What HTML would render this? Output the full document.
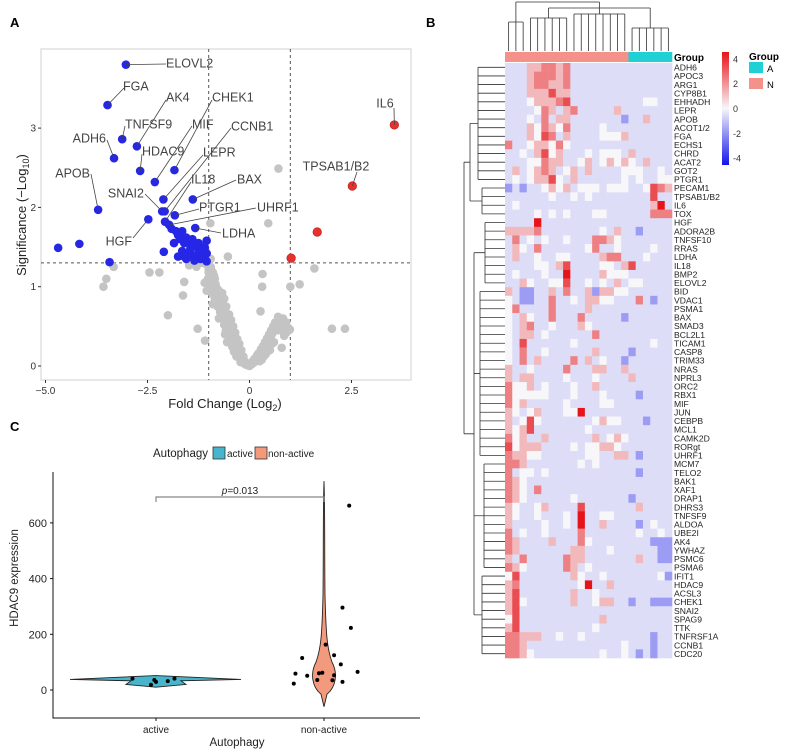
<!DOCTYPE html>
<html><head><meta charset="utf-8">
<style>
body{margin:0;background:#fff;}
svg{display:block;font-family:"Liberation Sans",Arial,sans-serif;}
</style></head>
<body>
<svg id="fig" width="786" height="754" viewBox="0 0 786 754" xmlns="http://www.w3.org/2000/svg">
<rect width="786" height="754" fill="#fff"/>
<text x="10" y="27" font-size="13" font-weight="bold">A</text>
<text x="426" y="27" font-size="13" font-weight="bold">B</text>
<text x="10" y="431" font-size="13" font-weight="bold">C</text>
<g id="volcano"></g>
<g id="heat"></g>
<g id="violin"></g>
</svg>
<script>
const NS="http://www.w3.org/2000/svg";
function mk(parent,tag,attrs,text){const e=document.createElementNS(NS,tag);for(const k in attrs)e.setAttribute(k,attrs[k]);if(text!==undefined)e.textContent=text;parent.appendChild(e);return e;}

/* ===== Volcano data ===== */
const grayPts=[[0.71,2.49],[-0.96,1.80],[0.46,1.80],[-0.53,1.38],[1.59,1.23],[-3.33,1.25],[-3.51,1.10],[-3.58,1.0],[-2.45,1.18],[-2.21,1.18],[-2.00,0.64],[-1.63,0.89],[-1.60,1.06],[0.32,1.16],[0.31,1.0],[1.0,1.0],[1.23,1.03],[2.02,0.47],[2.34,0.47],[0.27,0.69],[0.99,0.46],[0.79,0.23],[-1.27,0.47],[-1.09,0.32],[-1.48,1.27],[-1.3,1.25],[-1.15,1.3],[-0.95,1.35],
[-1.05,1.28],[-1.0,1.22],[-0.98,1.15],[-0.95,1.1],[-0.9,1.05],[-0.92,0.98],[-0.85,0.95],[-0.88,0.9],[-0.8,0.88],[-0.82,0.82],[-0.75,0.8],[-0.78,0.75],[-0.7,0.72],[-0.72,0.68],[-0.65,0.65],[-0.68,0.6],[-0.6,0.58],[-0.62,0.52],[-0.55,0.5],[-0.58,0.45],[-0.5,0.42],[-0.52,0.38],[-0.45,0.35],[-0.48,0.3],[-0.4,0.28],[-0.42,0.24],[-0.35,0.22],[-0.38,0.18],[-0.3,0.16],[-0.32,0.12],[-0.25,0.11],[-0.2,0.08],[-0.22,0.05],[-0.15,0.04],[-0.1,0.02],[-0.05,0.01],[0,0],[-0.95,1.25],[-0.9,1.18],[-0.85,1.1],[-1.1,1.05],[-1.05,0.95],[-0.75,0.95],[-0.7,0.85],[-0.65,0.78],[-0.9,0.78],[-0.6,0.7],[-0.55,0.62],[-0.75,0.6],[-0.5,0.55],[-0.45,0.48],[-0.6,0.4],[-0.4,0.4],[-0.35,0.32],[-0.3,0.25],[-0.25,0.2],[-0.55,0.3],
[-1.0,1.18],[-0.93,1.2],[-0.87,1.14],[-0.83,1.03],[-0.8,0.98],[-0.77,0.9],[-0.73,0.86],[-0.68,0.8],[-0.63,0.72],[-0.58,0.66],[-0.53,0.58],[-0.48,0.52],[-0.43,0.44],[-0.38,0.36],[-0.33,0.28],[-0.28,0.22],[-0.23,0.15],[-0.18,0.1],[-0.13,0.07],[-0.08,0.04],[-0.03,0.03],[-0.85,0.85],[-0.8,0.78],[-0.72,0.74],[-0.66,0.68],[-0.62,0.62],[-0.57,0.55],[-0.52,0.48],[-0.47,0.42],[-0.42,0.34],[-0.37,0.28],[-0.27,0.18],[-0.17,0.06],[-0.12,0.05],[-1.02,1.1],[-0.97,1.02],[-0.92,0.92],[-0.67,0.92],[-0.62,0.85],[-0.57,0.75],[-0.5,0.65],[-0.45,0.58],[-0.4,0.5],[-0.35,0.42],[-0.3,0.34],[-0.25,0.28],[-0.2,0.2],[-0.15,0.12],
[0.05,0.02],[0.1,0.04],[0.15,0.06],[0.2,0.1],[0.25,0.13],[0.3,0.17],[0.35,0.2],[0.4,0.25],[0.45,0.3],[0.5,0.35],[0.55,0.4],[0.6,0.45],[0.65,0.5],[0.7,0.55],[0.75,0.58],[0.8,0.55],[0.85,0.5],[0.82,0.6],[0.7,0.62],[0.9,0.42],[0.5,0.2],[0.6,0.3],[0.4,0.15],[0.3,0.08],[0.85,0.38],[0.95,0.48],[0.08,0.06],[0.12,0.09],[0.18,0.13],[0.22,0.16],[0.28,0.21],[0.33,0.25],[0.38,0.3],[0.43,0.35],[0.48,0.4],[0.53,0.45],[0.58,0.5],[0.63,0.55],[0.68,0.45],[0.73,0.5],[0.78,0.45],[0.9,0.55],[0.55,0.28],[0.45,0.22],[0.35,0.12],[0.25,0.06]];
const bluePts=[[-3.03,3.80],[-3.48,3.29],[-3.12,2.86],[-2.76,2.77],[-3.32,2.62],[-2.68,2.46],[-1.84,2.47],[-2.32,2.32],[-3.71,1.97],[-2.11,2.10],[-1.39,2.10],[-2.14,1.95],[-2.08,1.95],[-1.83,1.90],[-2.48,1.85],[-2.07,1.82],[-1.97,1.78],[-1.91,1.73],[-1.33,1.74],[-4.69,1.49],[-4.17,1.54],[-3.43,1.31],
[-1.8,1.7],[-1.75,1.65],[-1.7,1.6],[-1.55,1.62],[-1.5,1.58],[-1.45,1.55],[-1.4,1.6],[-1.35,1.52],[-1.3,1.5],[-1.25,1.55],[-1.2,1.48],[-1.15,1.45],[-1.1,1.5],[-1.05,1.58],[-1.6,1.55],[-1.65,1.45],[-1.5,1.42],[-1.4,1.4],[-1.3,1.38],[-1.2,1.35],[-1.1,1.37],[-1.05,1.32],[-1.75,1.38],[-1.85,1.55],[-1.55,1.35],[-1.35,1.33],[-1.45,1.48],[-2.1,1.44],[-1.65,1.7],[-1.25,1.42],[-1.15,1.38],[-1.05,1.42],[-1.6,1.38]];
const redPts=[[3.55,3.04],[2.52,2.27],[1.66,1.69],[1.02,1.36]];
const geneLabels=["ELOVL2","FGA","TNFSF9","AK4","ADH6","HDAC9","CHEK1","MIF","APOB","LEPR","BAX","SNAI2","CCNB1","PTGR1","HGF","IL18","UHRF1","LDHA","IL6","TPSAB1/B2"];
const geneX=[-3.03,-3.48,-3.12,-2.76,-3.32,-2.68,-1.84,-2.32,-3.71,-2.11,-1.39,-2.14,-2.08,-1.83,-2.48,-2.07,-1.97,-1.33,3.55,2.52];
const geneY=[3.80,3.29,2.86,2.77,2.62,2.46,2.47,2.32,1.97,2.10,2.10,1.95,1.95,1.90,1.85,1.82,1.78,1.74,3.04,2.27];
const volXTicks=[-5.0,-2.5,0,2.5];
const volXTickLabels=["\u22125.0","\u22122.5","0","2.5"];
const volYTicks=[0,1,2,3];

(function(){
 const g=document.getElementById('volcano');
 const X=v=>249.5+v*40.8, Y=v=>366-v*79.3;
 const frame=mk(g,'rect',{x:41,y:49,width:370,height:331,fill:'#fff',stroke:'#d9d9d9','stroke-width':1.2});
 
 [-1,1].forEach(v=>{const l=mk(g,'line',{x1:X(v),x2:X(v),y1:49,y2:380,stroke:'#555','stroke-dasharray':'3,3','stroke-width':1});});
 const h=mk(g,'line',{x1:41,x2:411,y1:Y(1.3),y2:Y(1.3),stroke:'#555','stroke-dasharray':'3,3','stroke-width':1});
 
 grayPts.forEach(p=>{const c=mk(g,'circle',{cx:X(p[0]),cy:Y(p[1]),r:4.3,fill:'#c4c4c4'});});
 bluePts.forEach(p=>{const c=mk(g,'circle',{cx:X(p[0]),cy:Y(p[1]),r:4.3,fill:'#2626e6'});});
 redPts.forEach(p=>{const c=mk(g,'circle',{cx:X(p[0]),cy:Y(p[1]),r:4.3,fill:'#e8302c',stroke:'#b0201c','stroke-width':0.6});});
 const labPos={"ELOVL2":[166,63,166,64],"FGA":[123,86,123,90],"TNFSF9":[125,124,125,126],"AK4":[166,97,166,100],"ADH6":[74,138,107,139],"HDAC9":[142,151,142,154],"CHEK1":[212,97,212,100],"MIF":[192,124,192,126],"APOB":[58,173,91,174],"LEPR":[203,152,203,155],"BAX":[237,179,236,180],"SNAI2":[110,193,145,194],"CCNB1":[231,126,231,128],"PTGR1":[199,207,199,209],"HGF":[107,241,133,238],"IL18":[191,179,191,182],"UHRF1":[257,207,256,208],"LDHA":[222,233,221,233],"IL6":[385,103,394,106],"TPSAB1/B2":[336,166,358,170]};
 const anchors=[[166,64],[124,88],[125,126],[166,100],[107,140],[142,154],[212,100],[192,126],[91,174],[203,155],[236,180],[145,194],[231,128],[199,209],[133,238],[191,182],[256,208],[221,233],[394,108],[357,172]];
 geneLabels.forEach((n,i)=>{
  const lp=labPos[n];const a=anchors[i];
  const ln=mk(g,'line',{x1:a[0],y1:a[1],x2:X(geneX[i]),y2:Y(geneY[i]),stroke:'#444','stroke-width':0.8});
  
  let tx=lp[0], anchor='start';
  if(n==="ADH6"||n==="APOB"||n==="SNAI2"||n==="HGF"){anchor='end';tx=lp[2]-1;}
  if(n==="IL6"||n==="TPSAB1/B2"){anchor='middle';}
  const t=mk(g,'text',{x:tx,y:lp[1]+4.5,'font-size':12.5,fill:'#444','text-anchor':anchor},n);
  
 });
 volXTicks.forEach((v,i)=>{mk(g,'line',{x1:X(v),x2:X(v),y1:380,y2:383,stroke:'#333'});const t=mk(g,'text',{x:X(v),y:394,'font-size':10,'text-anchor':'middle',fill:'#333'},volXTickLabels[i]);});
 volYTicks.forEach(v=>{mk(g,'line',{x1:38,x2:41,y1:Y(v),y2:Y(v),stroke:'#333'});const t=mk(g,'text',{x:36,y:Y(v)+3.5,'font-size':10,'text-anchor':'end',fill:'#333'},String(v));});
 const xt=mk(g,'text',{x:225,y:408,'font-size':13,'text-anchor':'middle',fill:'#222'});
 xt.innerHTML='Fold Change (Log<tspan font-size="9" dy="3">2</tspan><tspan dy="-3">)</tspan>';
 
 const yt=mk(g,'text',{x:0,y:0,'font-size':13,'text-anchor':'middle',fill:'#222',transform:'translate(26,215) rotate(-90)'});
 yt.innerHTML='Significance (\u2212Log<tspan font-size="9" dy="3">10</tspan><tspan dy="-3">)</tspan>';
 
})();

/* ===== Heatmap data ===== */
const heatGenes=["ADH6","APOC3","ARG1","CYP8B1","EHHADH","LEPR","APOB","ACOT1/2","FGA","ECHS1","CHRD","ACAT2","GOT2","PTGR1","PECAM1","TPSAB1/B2","IL6","TOX","HGF","ADORA2B","TNFSF10","RRAS","LDHA","IL18","BMP2","ELOVL2","BID","VDAC1","PSMA1","BAX","SMAD3","BCL2L1","TICAM1","CASP8","TRIM33","NRAS","NPRL3","ORC2","RBX1","MIF","JUN","CEBPB","MCL1","CAMK2D","RORgt","UHRF1","MCM7","TELO2","BAK1","XAF1","DRAP1","DHRS3","TNFSF9","ALDOA","UBE2I","AK4","YWHAZ","PSMC6","PSMA6","IFIT1","HDAC9","ACSL3","CHEK1","SNAI2","SPAG9","TTK","TNFRSF1A","CCNB1","CDC20"];
const heatRows=["11133443411111111111111","11134443411111111111111","11134433411111111111111","11133353311111111111111","11123334511111111112211","11112431341111131111111","11121413311111110113111","11132432411112111111111","11132541311112223111111","41123324211111111111111","11213523111212221311111","11122433112312323213111","13123431231311112221121","12123352131111112121122","01011232312221222112543","11111121121211111111511","12111111111111111111361","11112121211122111111444","11116111111111111111111","33334111111112131101111","14121211211144321111111","13214111111241121111211","13112112211113441112111","11112213511112213511111","12111211611113222111111","11321122511212131221111","31001131411303322111111","21001141121332211141011","24111141111311111111111","21321141114111110111111","21341121113211111111111","21331211111141111111111","21511111121111111111211","21411211111131111011111","21413111141312110111111","31121111411133113111111","31331111211121111311111","42231211121131111111111","42222211121112111101111","42311111211112211111111","32123111226111111111111","31252111111123221110111","32351111111211111111111","42311311111131232111111","52333111121223321111111","43322111111221133101111","44311111112121111111111","41221211111111111101111","43211111111111111111111","43214111111111111111111","43211111121111111011111","32112311115111111131111","32112111216112211111111","31111211216113111101211","41211211114111111121121","43111131114211111111000","43111111133111211111100","31411111433111111131100","43211111431211111111111","25111111132112111111120","34111111112611311111111","35111111131121111111111","35211111131123311011000","35111111111111111111111","25111111111113111111111","35111111111121111111111","44333112112111111111011","44311111111111112111011","44321111111112112101011"];
const codeValues=[-1.6,-0.45,0,1.1,2.1,3.0,4];
const groupCols=["N","N","N","N","N","N","N","N","N","N","N","N","N","N","N","N","N","A","A","A","A","A","A"];
const legendTicks=[4,2,0,-2,-4];

(function(){
 const g=document.getElementById('heat');
 const x0=505,y0=63,cw=167/23,rh=595/69;
 function col(v){
  const t=Math.min(1,Math.abs(v)/4);
  if(v>=0){return `rgb(${Math.round(247-(247-230)*t)},${Math.round(247-(247-20)*t)},${Math.round(250-(250-25)*t)})`;}
  return `rgb(${Math.round(247-(247-20)*t)},${Math.round(247-(247-20)*t)},${Math.round(250-(250-235)*t)})`;
 }
 groupCols.forEach((gr,j)=>{const r=mk(g,'rect',{x:x0+j*cw,y:52,width:cw+0.3,height:10,fill:gr==="N"?'#f4918a':'#1fd1d4'});});
 const gt=mk(g,'text',{x:674,y:61,'font-size':10,'font-weight':'bold'},'Group');
 heatRows.forEach((row,i)=>{
  for(let j=0;j<row.length;j++){
   const r=mk(g,'rect',{x:x0+j*cw,y:y0+i*rh,width:cw+0.3,height:rh+0.3,fill:col(codeValues[+row[j]])});
   
  }
  const t=mk(g,'text',{x:674,y:y0+(i+0.5)*rh+3.2,'font-size':8.6,fill:'#222'},heatGenes[i]);
  
 });
 let d='';
 for(let i=0;i<69;i++){const y=y0+(i+0.5)*rh;d+=`M505 ${y} H${498-(i%3)*3}`;}
 const groups=[[0,13,478],[14,17,482],[18,25,485],[26,45,480],[46,58,484],[59,68,482]];
 groups.forEach(([a,b,x])=>{d+=`M${x} ${y0+(a+0.5)*rh} V${y0+(b+0.5)*rh}`;for(let i=a;i<=b;i++){const y=y0+(i+0.5)*rh;d+=`M${x} ${y} H${498-(i%3)*3}`;}});
 const mids=groups.map(([a,b])=>y0+((a+b)/2+0.5)*rh);
 d+=`M470 ${mids[0]} V${mids[1]} M470 ${mids[0]} H478 M470 ${mids[1]} H482`;
 d+=`M474 ${mids[2]} V${mids[5]} M474 ${mids[2]} H485 M474 ${mids[3]} H480 M474 ${mids[4]} H484 M474 ${mids[5]} H482`;
 const m1=(mids[0]+mids[1])/2,m2=(mids[2]+mids[5])/2;
 d+=`M464 ${m1} V${m2} M464 ${m1} H470 M464 ${m2} H474`;
 const rd=mk(g,'path',{d:d,stroke:'#333','stroke-width':0.8,fill:'none'});
 let c='';
 for(let j=0;j<23;j++){const x=x0+(j+0.5)*cw;c+=`M${x} 51 V${40-(j%3)*4}`;}
 const cg=[[0,2,22],[3,8,18],[9,16,14],[17,22,28]];
 cg.forEach(([a,b,y])=>{c+=`M${x0+(a+0.5)*cw} ${y} H${x0+(b+0.5)*cw}`;for(let j=a;j<=b;j++){const x=x0+(j+0.5)*cw;c+=`M${x} ${y} V${40-(j%3)*4}`;}});
 const cm=cg.map(([a,b])=>x0+((a+b)/2+0.5)*cw);
 c+=`M${cm[1]} 8 H${cm[3]} M${cm[1]} 8 V18 M${cm[3]} 8 V28 M${cm[2]} 8 V14`;
 c+=`M${cm[0]} 2 H${(cm[1]+cm[3])/2} M${cm[0]} 2 V22 M${(cm[1]+cm[3])/2} 2 V8`;
 const cd=mk(g,'path',{d:c,stroke:'#333','stroke-width':0.8,fill:'none'});
 const defs=mk(g,'defs',{});const lg=mk(defs,'linearGradient',{id:'cb',x1:0,y1:0,x2:0,y2:1});
 [[0,4],[0.5,0],[1,-4]].forEach(([o,v])=>mk(lg,'stop',{offset:o,'stop-color':col(v)}));
 const cbr=mk(g,'rect',{x:722,y:52,width:7,height:113,fill:'url(#cb)'});
 legendTicks.forEach(v=>{const y=108.5-v*12.4;const t=mk(g,'text',{x:733,y:y+3.5,'font-size':9,fill:'#333'},String(v));});
 const lt=mk(g,'text',{x:749,y:60,'font-size':10,'font-weight':'bold'},'Group');
 const la=mk(g,'rect',{x:749,y:62,width:14,height:11,fill:'#1fd1d4'});
 mk(g,'text',{x:767,y:72,'font-size':9.5},'A');
 const ln=mk(g,'rect',{x:749,y:78,width:14,height:11,fill:'#f4918a'});
 mk(g,'text',{x:767,y:88,'font-size':9.5},'N');
})();

/* ===== Violin data ===== */
const vioCats=["active","non-active"];
const activeVals=[41,36,29,32,41,19];
const activeJit=[-0.14,-0.01,0.0,0.07,0.11,-0.03];
const nonVals=[662,296,223,163,115,125,92,59,51,60,62,53,65,36,35,29,23];
const nonJit=[0.15,0.11,0.16,0.01,-0.13,0.06,0.10,-0.17,-0.10,-0.03,-0.01,0.06,0.2,-0.04,0.05,0.11,-0.18];
const vioYTicks=[0,200,400,600];

(function(){
 const g=document.getElementById('violin');
 const Y=v=>690-v*0.2785;
 const Xc=i=>156+i*168;
 const XJ=(i,j)=>Xc(i)+j*168;
 mk(g,'text',{x:153,y:457,'font-size':11.5,fill:'#222'},'Autophagy');
 const b1=mk(g,'rect',{x:213,y:447,width:12,height:12,fill:'#47b6cd',stroke:'#333','stroke-width':0.8});
 mk(g,'text',{x:227,y:457,'font-size':10,fill:'#222'},'active');
 const b2=mk(g,'rect',{x:255,y:447,width:12,height:12,fill:'#f29a7b',stroke:'#333','stroke-width':0.8});
 mk(g,'text',{x:268,y:457,'font-size':10,fill:'#222'},'non-active');
 const ax=mk(g,'path',{d:'M53 472 V718 H420',stroke:'#111','stroke-width':1,fill:'none'});
 vioYTicks.forEach(v=>{mk(g,'line',{x1:50,x2:53,y1:Y(v),y2:Y(v),stroke:'#111'});const t=mk(g,'text',{x:47,y:Y(v)+4,'font-size':11,'text-anchor':'end',fill:'#222'},String(v));});
 vioCats.forEach((c,i)=>{mk(g,'line',{x1:Xc(i),x2:Xc(i),y1:718,y2:721,stroke:'#111'});const t=mk(g,'text',{x:Xc(i),y:733,'font-size':10,'text-anchor':'middle',fill:'#222'},c);});
 const xt=mk(g,'text',{x:237,y:746,'font-size':11.5,'text-anchor':'middle',fill:'#222'},'Autophagy');
 const yt=mk(g,'text',{x:0,y:0,'font-size':11.5,'text-anchor':'middle',fill:'#222',transform:'translate(18,578) rotate(-90)'},'HDAC9 expression');
 const a=Xc(0);
 const va=mk(g,'path',{d:`M${a-86} ${Y(38)} L${a} ${Y(52)} L${a+85} ${Y(38)} L${a+25} ${Y(33)} L${a+30} ${Y(20)} L${a} ${Y(10)} L${a-30} ${Y(20)} L${a-25} ${Y(33)} Z`,fill:'#47b6cd',stroke:'#222','stroke-width':0.9});
 
 const n=Xc(1);
 const vn=mk(g,'path',{d:`M${n} ${Y(750)} C${n+1} ${Y(650)} ${n+0.5} ${Y(500)} ${n+1} ${Y(340)} C${n+2} ${Y(200)} ${n+3} ${Y(150)} ${n+8} ${Y(100)} C${n+14} ${Y(60)} ${n+12} ${Y(10)} ${n+3} ${Y(-15)} L${n} ${Y(-60)} L${n-3} ${Y(-15)} C${n-12} ${Y(10)} ${n-14} ${Y(60)} ${n-8} ${Y(100)} C${n-3} ${Y(150)} ${n-2} ${Y(200)} ${n-1} ${Y(340)} C${n-0.5} ${Y(500)} ${n-1} ${Y(650)} ${n} ${Y(750)} Z`,fill:'#f29a7b',stroke:'#222','stroke-width':0.9});
 
 activeVals.forEach((v,k)=>{const c=mk(g,'circle',{cx:XJ(0,activeJit[k]),cy:Y(v),r:2,fill:'#000'});});
 nonVals.forEach((v,k)=>{const c=mk(g,'circle',{cx:XJ(1,nonJit[k]),cy:Y(v),r:2,fill:'#000'});});
 const br=mk(g,'path',{d:`M${a} 502 V497 H${n} V502`,stroke:'#888','stroke-width':1.2,fill:'none'});
 const pt=mk(g,'text',{x:240,y:494,'font-size':10,'text-anchor':'middle',fill:'#222'});
 pt.innerHTML='<tspan font-style="italic">p</tspan>=0.013';
 
})();
</script>
</body></html>
